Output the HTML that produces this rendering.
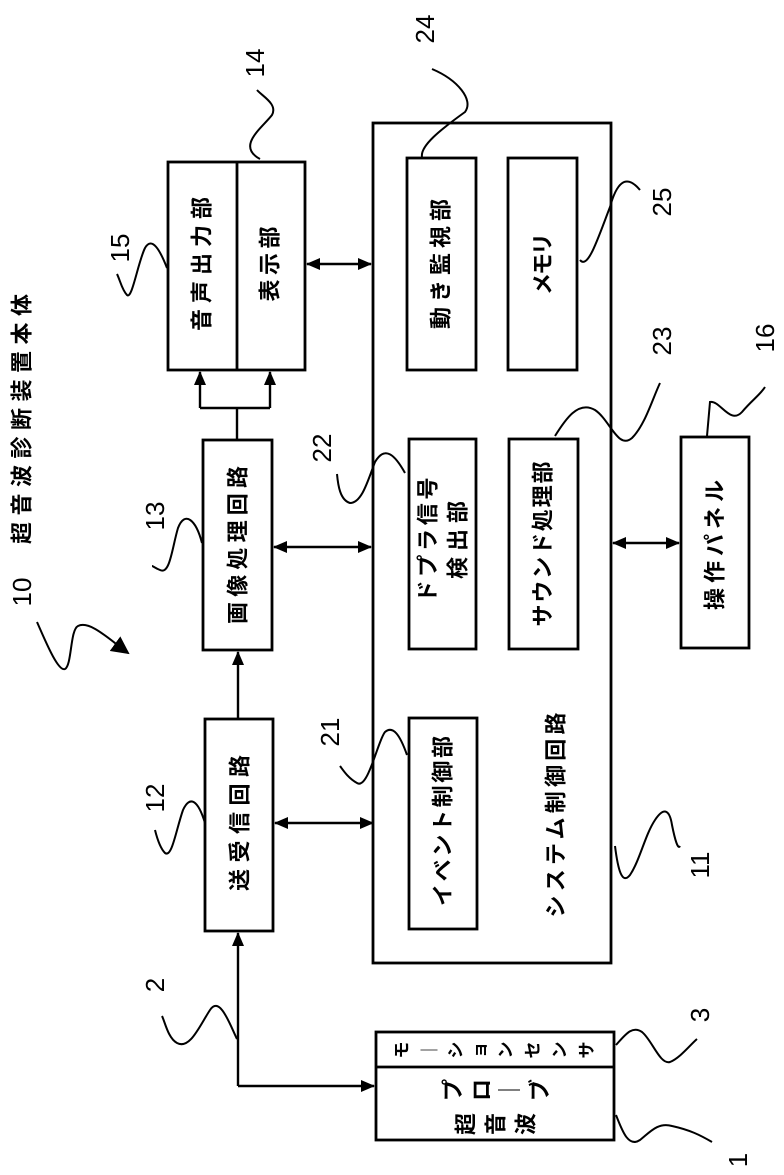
<!DOCTYPE html>
<html><head><meta charset="utf-8"><style>
html,body{margin:0;padding:0;background:#fff;}
svg{display:block;}
text{font-family:"Liberation Sans","Noto Sans CJK JP",sans-serif;fill:#000;}
.j{font-size:22px;font-weight:bold;}
.n{font-size:26px;}
</style></head><body>
<svg width="784" height="1175" viewBox="0 0 784 1175" xmlns="http://www.w3.org/2000/svg">
<defs>
<marker id="a" markerWidth="14" markerHeight="14" refX="13" refY="7" orient="auto" markerUnits="userSpaceOnUse">
<path d="M0,1 L14,7 L0,13 z" fill="#000"/></marker>
<marker id="as" markerWidth="14" markerHeight="14" refX="1" refY="7" orient="auto" markerUnits="userSpaceOnUse">
<path d="M14,1 L0,7 L14,13 z" fill="#000"/></marker>
<marker id="a2" markerWidth="18" markerHeight="18" refX="16" refY="9" orient="auto" markerUnits="userSpaceOnUse">
<path d="M0,0 L18,9 L0,18 z" fill="#000"/></marker>
</defs>
<g fill="none" stroke="#000" stroke-width="2.8">
<rect x="168" y="162" width="137" height="208"/>
<line x1="237" y1="162" x2="237" y2="370"/>
<rect x="373" y="123" width="238" height="840"/>
<rect x="407" y="158" width="69" height="212"/>
<rect x="508" y="158" width="69" height="212"/>
<rect x="409" y="439" width="67" height="210"/>
<rect x="509" y="439" width="69" height="210"/>
<rect x="681" y="437" width="68" height="211"/>
<rect x="203" y="440" width="69" height="210"/>
<rect x="205" y="719" width="68" height="212"/>
<rect x="409" y="718" width="68" height="211"/>
<rect x="376" y="1032" width="238" height="108"/>
<line x1="376" y1="1067" x2="614" y2="1067"/>
</g>
<g fill="none" stroke="#000" stroke-width="2.4">
<line x1="307" y1="264" x2="371" y2="264" marker-start="url(#as)" marker-end="url(#a)"/>
<line x1="274" y1="547" x2="371" y2="547" marker-start="url(#as)" marker-end="url(#a)"/>
<line x1="275" y1="823" x2="373" y2="823" marker-start="url(#as)" marker-end="url(#a)"/>
<line x1="613" y1="543" x2="679" y2="543" marker-start="url(#as)" marker-end="url(#a)"/>
<line x1="237" y1="440" x2="237" y2="408"/>
<line x1="200" y1="408" x2="270" y2="408"/>
<line x1="200" y1="408" x2="200" y2="372" marker-end="url(#a)"/>
<line x1="270" y1="408" x2="270" y2="372" marker-end="url(#a)"/>
<line x1="238" y1="719" x2="238" y2="652" marker-end="url(#a)"/>
<line x1="238" y1="1086" x2="238" y2="933" marker-end="url(#a)"/>
<line x1="238" y1="1086" x2="374" y2="1086" marker-end="url(#a)"/>
</g>
<g fill="none" stroke="#000" stroke-width="2">
<path d="M260,159 C236,146 262,128 272,115 C278,104 262,96 257,90"/>
<path d="M167,268 C160,250 152,236 145,248 C138,262 132,300 127,295 C122,290 120,280 117,274"/>
<path d="M422,157 C420,146 440,130 465,112 C474,100 458,80 432,69"/>
<path d="M580,260 C588,270 598,238 610,207 C616,185 625,172 640,190"/>
<path d="M555,436 C565,420 578,400 595,410 C610,420 618,450 632,438 C645,425 652,400 660,383"/>
<path d="M707,436 L710,402 C720,400 730,425 742,412 C752,400 760,395 765,387"/>
<path d="M405,473 C395,455 385,445 375,462 C368,480 362,503 350,503 C340,500 338,485 337,474"/>
<path d="M202,543 C196,520 185,510 178,528 C172,548 170,575 160,570 C155,568 153,566 152,566"/>
<path d="M37,622 C45,640 58,672 65,669 C72,665 70,630 78,626 C90,620 110,640 128,653" marker-end="url(#a2)"/>
<path d="M205,823 C198,800 190,795 183,810 C176,830 172,858 165,853 C160,848 157,838 155,830"/>
<path d="M407,755 C400,735 393,725 385,732 C378,740 368,790 357,783 C348,778 343,770 340,766"/>
<path d="M615,846 C618,870 622,885 630,875 C640,860 645,835 655,820 C665,805 670,812 672,825 C675,840 678,850 680,846"/>
<path d="M237,1039 C230,1025 220,995 210,1010 C200,1025 190,1050 177,1043 C168,1038 165,1022 162,1016"/>
<path d="M616,1045 C625,1035 632,1025 642,1032 C652,1040 660,1065 670,1062 C680,1058 690,1045 697,1039"/>
<path d="M616,1115 C622,1130 628,1148 640,1140 C650,1132 658,1122 672,1126 C690,1130 700,1135 712,1142"/>
</g>
<g class="j" text-anchor="middle" dominant-baseline="central">
<text transform="translate(202,264) rotate(-90)" textLength="134" lengthAdjust="spacing">音声出力部</text>
<text transform="translate(270,264) rotate(-90)" textLength="75" lengthAdjust="spacing">表示部</text>
<text transform="translate(441,264) rotate(-90)" textLength="130" lengthAdjust="spacing">動き監視部</text>
<text transform="translate(543,264) rotate(-90)" textLength="62" lengthAdjust="spacing">メモリ</text>
<text transform="translate(238,545) rotate(-90)" textLength="158" lengthAdjust="spacing">画像処理回路</text>
<text transform="translate(428,540) rotate(-90)" textLength="125" lengthAdjust="spacing">ドプラ信号</text>
<text transform="translate(458,540) rotate(-90)" textLength="78" lengthAdjust="spacing">検出部</text>
<text transform="translate(543,544) rotate(-90)" textLength="165" lengthAdjust="spacing">サウンド処理部</text>
<text transform="translate(715,545) rotate(-90)" textLength="130" lengthAdjust="spacing">操作パネル</text>
<text transform="translate(240,823) rotate(-90)" textLength="136" lengthAdjust="spacing">送受信回路</text>
<text transform="translate(443,821) rotate(-90)" textLength="170" lengthAdjust="spacing">イベント制御部</text>
<text transform="translate(556,815) rotate(-90)" textLength="205" lengthAdjust="spacing">システム制御回路</text>
<text transform="translate(22,419) rotate(-90)" textLength="250" lengthAdjust="spacing">超音波診断装置本体</text>
</g>
<g font-size="17" font-weight="bold" text-anchor="middle" dominant-baseline="central">
<text transform="translate(402,1050) rotate(-90)">モ</text>
<text transform="translate(430,1050) rotate(-90)">｜</text>
<text transform="translate(456,1050) rotate(-90)">シ</text>
<text transform="translate(480,1050) rotate(-90)">ョ</text>
<text transform="translate(506,1050) rotate(-90)">ン</text>
<text transform="translate(533,1050) rotate(-90)">セ</text>
<text transform="translate(560,1050) rotate(-90)">ン</text>
<text transform="translate(587,1050) rotate(-90)">サ</text>
</g>
<g class="j" text-anchor="middle" dominant-baseline="central">
<text transform="translate(453,1090) rotate(-90)">プ</text>
<text transform="translate(482,1090) rotate(-90)">ロ</text>
<text transform="translate(510,1090) rotate(-90)">｜</text>
<text transform="translate(540,1090) rotate(-90)">ブ</text>
<text transform="translate(466,1124) rotate(-90)">超</text>
<text transform="translate(496,1124) rotate(-90)">音</text>
<text transform="translate(526,1124) rotate(-90)">波</text>
</g>
<g class="n" text-anchor="middle" dominant-baseline="central">
<text transform="translate(22,592) rotate(-90)">10</text>
<text transform="translate(255,63) rotate(-90)">14</text>
<text transform="translate(120,248) rotate(-90)">15</text>
<text transform="translate(425,29) rotate(-90)">24</text>
<text transform="translate(662,202) rotate(-90)">25</text>
<text transform="translate(662,341) rotate(-90)">23</text>
<text transform="translate(765,338) rotate(-90)">16</text>
<text transform="translate(322,448) rotate(-90)">22</text>
<text transform="translate(155,516) rotate(-90)">13</text>
<text transform="translate(155,798) rotate(-90)">12</text>
<text transform="translate(330,732) rotate(-90)">21</text>
<text transform="translate(700,865) rotate(-90)">11</text>
<text transform="translate(155,985) rotate(-90)">2</text>
<text transform="translate(700,1015) rotate(-90)">3</text>
<text transform="translate(738,1160) rotate(-90)">1</text>
</g>
</svg>
</body></html>
